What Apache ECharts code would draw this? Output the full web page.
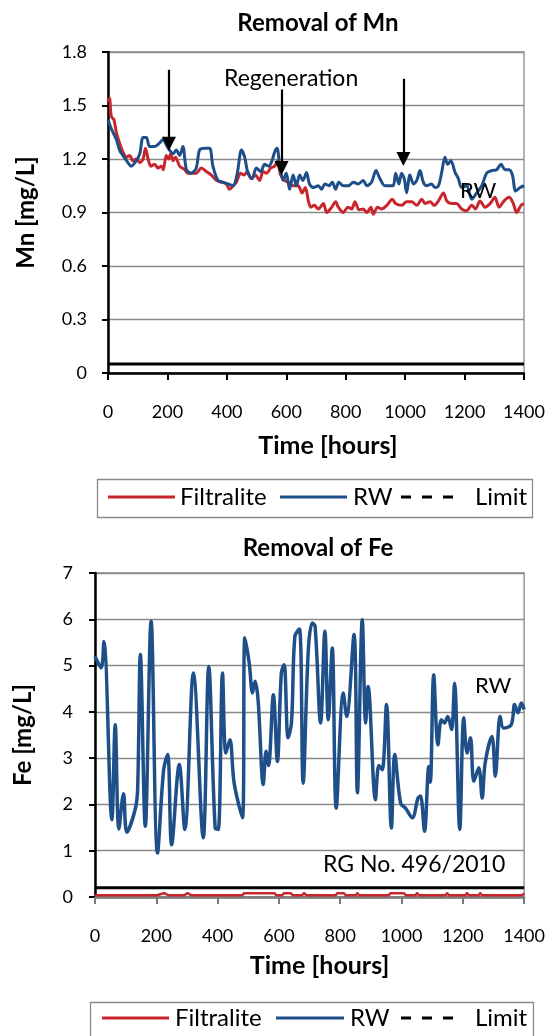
<!DOCTYPE html>
<html><head><meta charset="utf-8">
<script src="https://cdn.jsdelivr.net/npm/echarts@6/dist/echarts.min.js"></script>
<style>html,body{margin:0;padding:0;background:#fff}#c{width:548px;height:1036px}</style>
</head><body><div id="c"></div>
<script>
// ---- Data (time [hours], concentration [mg/L]) ----
var mnFiltralite = [[0,1.52],[5,1.54],[11,1.44],[20,1.42],[28,1.35],[39,1.29],[50,1.24],[62,1.21],[73,1.22],[84,1.19],[95,1.20],[107,1.18],[118,1.20],[126,1.26],[135,1.20],[144,1.16],[157,1.17],[168,1.15],[180,1.16],[186,1.14],[196,1.22],[204,1.20],[211,1.23],[219,1.19],[227,1.21],[241,1.16],[258,1.14],[269,1.12],[280,1.12],[297,1.12],[314,1.15],[331,1.13],[348,1.11],[365,1.08],[381,1.07],[398,1.06],[409,1.03],[421,1.05],[432,1.07],[446,1.12],[458,1.11],[469,1.13],[482,1.09],[496,1.11],[510,1.08],[522,1.13],[533,1.12],[548,1.15],[561,1.16],[570,1.19],[581,1.11],[595,1.08],[606,1.07],[623,1.05],[640,1.05],[653,1.01],[664,1.04],[675,0.96],[683,0.93],[694,0.94],[708,0.92],[725,0.95],[736,0.90],[753,0.93],[766,0.96],[775,0.93],[792,0.90],[807,0.93],[820,0.92],[831,0.96],[845,0.915],[859,0.92],[871,0.90],[885,0.93],[893,0.89],[907,0.93],[921,0.92],[938,0.94],[957,0.975],[968,0.95],[988,0.94],[1005,0.96],[1022,0.96],[1039,0.94],[1056,0.975],[1067,0.95],[1084,0.96],[1098,0.94],[1112,0.965],[1129,1.01],[1140,0.965],[1157,0.95],[1173,0.95],[1190,0.92],[1207,0.91],[1224,0.94],[1237,0.92],[1252,0.965],[1269,0.93],[1286,0.95],[1302,0.985],[1316,0.93],[1333,0.965],[1350,0.985],[1364,0.95],[1375,0.90],[1390,0.94],[1400,0.95]];
var mnRW = [[0,1.42],[11,1.37],[28,1.31],[39,1.25],[50,1.22],[67,1.18],[78,1.16],[95,1.19],[107,1.23],[118,1.32],[129,1.32],[140,1.27],[157,1.27],[174,1.29],[185,1.31],[196,1.28],[207,1.25],[219,1.23],[230,1.25],[241,1.22],[252,1.27],[264,1.14],[280,1.12],[297,1.15],[308,1.25],[325,1.26],[342,1.26],[353,1.16],[370,1.08],[387,1.07],[404,1.06],[421,1.05],[435,1.12],[449,1.25],[460,1.21],[471,1.12],[485,1.09],[499,1.15],[514,1.13],[527,1.17],[541,1.16],[552,1.19],[561,1.24],[569,1.26],[578,1.16],[589,1.08],[600,1.12],[611,1.03],[623,1.11],[634,1.05],[645,1.11],[656,1.08],[668,1.125],[678,1.06],[691,1.04],[708,1.05],[719,1.03],[730,1.06],[744,1.05],[755,1.07],[766,1.03],[777,1.07],[792,1.05],[809,1.05],[826,1.07],[842,1.06],[859,1.08],[871,1.05],[887,1.07],[902,1.135],[915,1.09],[932,1.05],[949,1.05],[960,1.05],[968,1.12],[979,1.06],[988,1.12],[997,1.09],[1005,1.01],[1016,1.11],[1028,1.06],[1039,1.08],[1050,1.135],[1061,1.07],[1072,1.05],[1089,1.06],[1100,1.04],[1112,1.05],[1123,1.125],[1134,1.21],[1143,1.17],[1154,1.19],[1168,1.125],[1179,1.09],[1190,1.04],[1207,1.05],[1224,0.975],[1241,1.01],[1258,1.05],[1274,1.12],[1291,1.135],[1308,1.14],[1323,1.17],[1336,1.14],[1350,1.14],[1361,1.11],[1372,1.02],[1387,1.04],[1400,1.05]];
var mnLimit = [[0,0.05],[1400,0.05]];
var regenArrows = [[205,1.70,1.285],[584,1.59,1.15],[994,1.65,1.20]]; // [time, shaft start, head centre]

var feFiltralite = [[0,0.04],[200,0.04],[226,0.08],[240,0.04],[290,0.04],[302,0.08],[315,0.04],[480,0.04],[487,0.08],[585,0.08],[592,0.04],[610,0.04],[617,0.08],[639,0.08],[645,0.04],[675,0.04],[682,0.08],[690,0.04],[785,0.04],[791,0.08],[812,0.08],[818,0.04],[850,0.04],[856,0.08],[862,0.04],[958,0.04],[964,0.08],[1008,0.08],[1014,0.04],[1045,0.04],[1051,0.08],[1057,0.04],[1143,0.04],[1149,0.08],[1155,0.04],[1208,0.04],[1214,0.08],[1220,0.04],[1251,0.04],[1257,0.08],[1263,0.04],[1392,0.04],[1400,0.08]];
var feRW = [[0,5.2],[20,4.95],[29,5.52],[55,1.67],[66,3.72],[78,1.47],[93,2.23],[104,1.4],[131,1.89],[139,2.32],[148,5.24],[164,1.53],[183,5.96],[204,0.95],[224,2.75],[237,3.08],[250,1.13],[275,2.86],[293,1.46],[321,4.84],[353,1.28],[371,4.98],[392,1.49],[402,1.46],[416,4.84],[427,3.11],[440,3.4],[454,2.46],[481,1.71],[489,5.6],[503,5.06],[514,4.41],[522,4.66],[532,4.26],[549,2.43],[558,3.15],[566,2.84],[582,4.37],[595,2.93],[608,4.84],[617,5.02],[630,3.44],[641,3.76],[652,5.63],[667,5.79],[679,2.46],[696,5.34],[709,5.92],[718,5.85],[736,3.76],[750,5.74],[761,3.83],[774,5.38],[787,1.92],[810,4.41],[821,3.9],[845,5.67],[856,2.25],[872,5.99],[883,3.76],[891,4.55],[915,2.1],[926,2.84],[937,2.75],[951,4.16],[967,1.49],[978,3.08],[997,2.03],[1013,1.92],[1035,1.71],[1054,2.14],[1062,2.18],[1075,1.42],[1089,2.82],[1094,2.48],[1105,4.80],[1119,3.29],[1130,3.83],[1140,3.76],[1151,3.9],[1163,3.62],[1173,4.62],[1190,1.46],[1203,3.87],[1214,3.11],[1225,3.44],[1236,2.5],[1252,2.79],[1263,2.14],[1273,2.9],[1295,3.47],[1306,2.61],[1322,3.9],[1333,3.65],[1358,3.72],[1369,4.16],[1380,3.98],[1391,4.19],[1400,4.05]];
var feLimit = [[0,0.2],[1400,0.2]];

var timeTicks = {min:0, max:1400, interval:200};
var mnTicks = {min:0, max:1.8, interval:0.3};
var feTicks = {min:0, max:7, interval:1};
var legendNames = ['Filtralite', 'RW', 'Limit'];

var RED = '#c8262c', BLUE = '#1f4f88', FONT = 'Lato';

function xAxisFor(gi, margin, gap, shift, lineColor){
  return {type:'value', gridIndex:gi, min:timeTicks.min, max:timeTicks.max, interval:timeTicks.interval,
    name:'Time [hours]', nameLocation:'middle', nameGap:gap,
    nameTextStyle:{fontFamily:FONT, fontWeight:'bold', fontSize:25, color:'#000', padding:[0,0,0,shift]},
    axisLine:{show:true, onZero:false, lineStyle:{color:lineColor, width:2.5}},
    axisTick:{show:true, inside:false, length:7, lineStyle:{color:lineColor, width:2}},
    axisLabel:{margin:margin, fontFamily:FONT, fontSize:18, color:'#000', formatter:function(v){return String(v);}},
    splitLine:{show:false}};
}
function yAxisFor(gi, t, name, margin, gap){
  return {type:'value', gridIndex:gi, min:t.min, max:t.max, interval:t.interval,
    name:name, nameLocation:'middle', nameGap:gap,
    nameTextStyle:{fontFamily:FONT, fontWeight:'bold', fontSize:24, color:'#000'},
    axisLine:{show:true, onZero:false, lineStyle:{color:'#000', width:2.5}},
    axisTick:{show:true, inside:false, length:6, lineStyle:{color:'#000', width:2}},
    axisLabel:{margin:margin, fontFamily:FONT, fontSize:18, color:'#000'},
    splitLine:{show:true, lineStyle:{color:'#8a8a8a', width:1.3}}};
}
// legend drawn as text + line samples
function legendGraphics(boxLeft, boxTop, boxW, boxH, cy, pos){
  var g = [{type:'rect', left:boxLeft, top:boxTop, shape:{width:boxW, height:boxH}, style:{fill:'none', stroke:'#8a8a8a', lineWidth:1.3}}];
  var styles = [{stroke:RED, lineWidth:3}, {stroke:BLUE, lineWidth:3}, {stroke:'#000', lineWidth:3, lineDash:[10,11]}];
  for (var i=0;i<3;i++){
    var p = pos[i];
    g.push({type:'line', shape:{x1:p[0], y1:cy, x2:p[1], y2:cy}, style:styles[i]});
    g.push({type:'text', x:p[2], y:cy, style:{text:legendNames[i], fontFamily:FONT, fontSize:24, fill:'#000', verticalAlign:'middle'}});
  }
  return g;
}

var arrowData = regenArrows.map(function(a){
  return [{coord:[a[0],a[1]]},{coord:[a[0],a[2]]}];
});

var graphics = [
  {type:'text', left:224, top:67, style:{text:'Regeneration', fontFamily:FONT, fontSize:23, fill:'#000'}, z:100},
  {type:'text', left:460, top:180, style:{text:'RW', fontFamily:FONT, fontSize:22, fill:'#000'}, z:100},
  {type:'text', left:475, top:675, style:{text:'RW', fontFamily:FONT, fontSize:22, fill:'#000'}, z:100},
  {type:'text', left:323, top:853, style:{text:'RG No. 496/2010', fontFamily:FONT, fontSize:23, fill:'#000'}, z:100}
].concat(
  legendGraphics(95, 477, 435, 38, 497, [[108,175,180],[280,347,353],[401,457,475]]),
  legendGraphics(88, 1000, 443, 45, 1018, [[102,169,175],[276,344,350],[401,457,475]])
);

var option = {
  animation:false,
  title:[
    {text:'Removal of Mn', left:313, top:6, textAlign:'center', textStyle:{fontFamily:FONT, fontWeight:'bold', fontSize:24, color:'#000'}},
    {text:'Removal of Fe', left:313, top:531, textAlign:'center', textStyle:{fontFamily:FONT, fontWeight:'bold', fontSize:24, color:'#000'}}
  ],
  grid:[
    {left:108, right:24, top:52, height:321, show:true, borderColor:'#8a8a8a', borderWidth:1.3, backgroundColor:'transparent'},
    {left:95, right:23, top:573, height:324, show:true, borderColor:'#8a8a8a', borderWidth:1.3, backgroundColor:'transparent'}
  ],
  xAxis:[xAxisFor(0, 30, 60, 24, '#000'), xAxisFor(1, 30, 56, 20, '#7a7a7a')],
  yAxis:[yAxisFor(0, mnTicks, 'Mn [mg/L]', 21, 70), yAxisFor(1, feTicks, 'Fe [mg/L]', 22, 60)],
  graphic:graphics,
  series:[
    {name:'Filtralite', type:'line', xAxisIndex:0, yAxisIndex:0, data:mnFiltralite, symbol:'none', smooth:0.3,
      lineStyle:{color:RED, width:3}, itemStyle:{color:RED}, z:3},
    {name:'RW', type:'line', xAxisIndex:0, yAxisIndex:0, data:mnRW, symbol:'none', smooth:0.3,
      lineStyle:{color:BLUE, width:3}, itemStyle:{color:BLUE}, z:4,
      markLine:{silent:true, symbol:['none','triangle'], symbolSize:14, label:{show:false},
        lineStyle:{color:'#000', width:2.2, type:'solid'}, itemStyle:{color:'#000'}, emphasis:{disabled:true}, data:arrowData}},
    {name:'Limit', type:'line', xAxisIndex:0, yAxisIndex:0, data:mnLimit, symbol:'none',
      lineStyle:{color:'#000', width:3}, itemStyle:{color:'#000'}, z:5},
    {name:'Filtralite', type:'line', xAxisIndex:1, yAxisIndex:1, data:feFiltralite, symbol:'none', smooth:0.3,
      lineStyle:{color:RED, width:2.5}, itemStyle:{color:RED}, z:3},
    {name:'RW', type:'line', xAxisIndex:1, yAxisIndex:1, data:feRW, symbol:'none', smooth:0.35,
      lineStyle:{color:BLUE, width:3.5}, itemStyle:{color:BLUE}, z:4},
    {name:'Limit', type:'line', xAxisIndex:1, yAxisIndex:1, data:feLimit, symbol:'none',
      lineStyle:{color:'#000', width:3}, itemStyle:{color:'#000'}, z:5}
  ]
};
echarts.init(document.getElementById('c'), null, {renderer:'canvas'}).setOption(option);
</script></body></html>
